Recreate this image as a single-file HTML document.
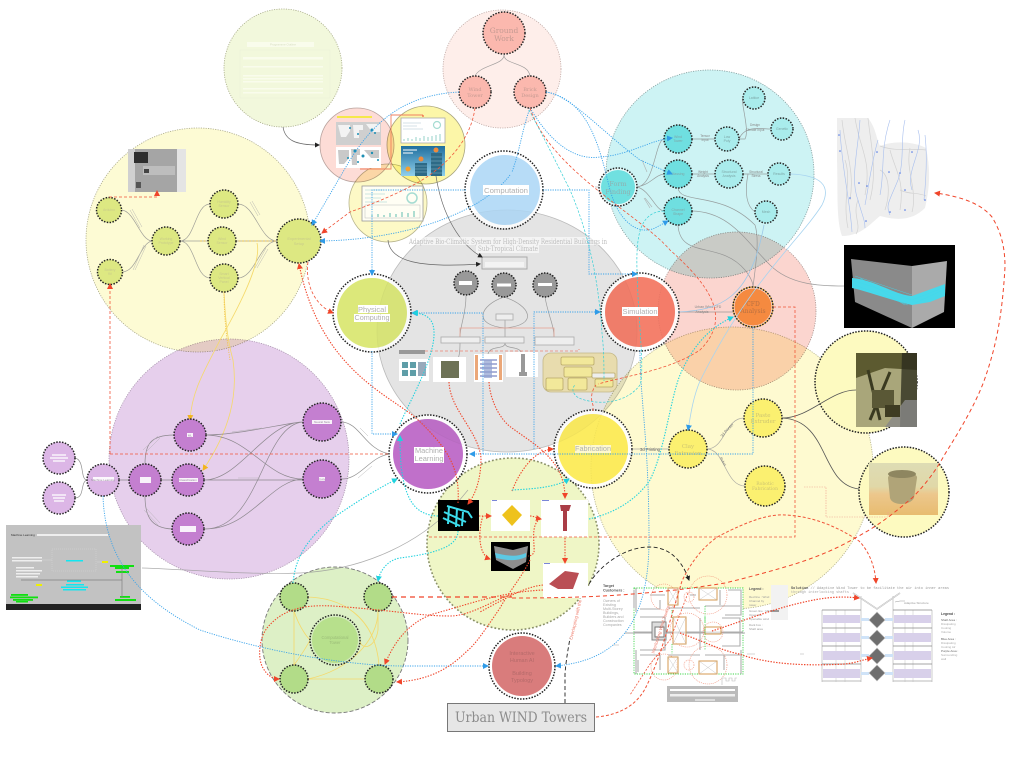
<!DOCTYPE html>
<html><head><meta charset="utf-8"><title>Urban WIND Towers</title>
<style>
html,body{margin:0;padding:0;background:#fff}
svg{display:block}
text{font-family:"Liberation Sans",sans-serif}
.mono{font-family:"Liberation Mono",monospace}
.ser{font-family:"DejaVu Serif","Liberation Serif",serif}
.big{mix-blend-mode:multiply}
.d{stroke:#222;stroke-width:1.5;stroke-dasharray:1.5 1.4}
.bl{stroke:#3aa3ea;stroke-width:.9;stroke-dasharray:1.2 1.2;fill:none}
.bs{stroke:#a8d4f0;stroke-width:.8;fill:none}
.rd{stroke:#f0553a;stroke-width:.8;stroke-dasharray:3 2;fill:none}
.rt{stroke:#f0452a;stroke-width:1.1;stroke-dasharray:1.4 1.4;fill:none}
.rb{stroke:#f0452a;stroke-width:1.2;stroke-dasharray:5 4;fill:none}
.cy{stroke:#1fd2de;stroke-width:1.1;stroke-dasharray:1.4 1.4;fill:none}
.cd{stroke:#35cfd6;stroke-width:.7;stroke-dasharray:2.5 1.5;fill:none}
.gr{stroke:#8a8a8a;stroke-width:.7;fill:none;opacity:.8}
.gd{stroke:#666;stroke-width:.7;fill:none}
.ye{stroke:#f5d96a;stroke-width:.8;fill:none}
</style></head><body>
<svg width="1024" height="762" viewBox="0 0 1024 762" xmlns="http://www.w3.org/2000/svg">
<defs>
<marker id="b" markerUnits="userSpaceOnUse" markerWidth="7" markerHeight="7" refX="5" refY="3" orient="auto"><path d="M0 0L6 3L0 6Z" fill="#2f9be8"/></marker>
<marker id="r" markerUnits="userSpaceOnUse" markerWidth="7" markerHeight="7" refX="5" refY="3" orient="auto"><path d="M0 0L6 3L0 6Z" fill="#f0452a"/></marker>
<marker id="c" markerUnits="userSpaceOnUse" markerWidth="7" markerHeight="7" refX="5" refY="3" orient="auto"><path d="M0 0L6 3L0 6Z" fill="#1fd2de"/></marker>
<marker id="o" markerUnits="userSpaceOnUse" markerWidth="7" markerHeight="7" refX="5" refY="3" orient="auto"><path d="M0 0L6 3L0 6Z" fill="#f2b520"/></marker>
<marker id="k" markerUnits="userSpaceOnUse" markerWidth="6" markerHeight="6" refX="4" refY="2.5" orient="auto"><path d="M0 0L5 2.5L0 5Z" fill="#222"/></marker>
<linearGradient id="tw" x1="0" y1="0" x2="0" y2="1"><stop offset="0" stop-color="#1f6e9e"/><stop offset="1" stop-color="#8fd0ec"/></linearGradient>
<linearGradient id="cupbg" x1="0" y1="0" x2="0" y2="1"><stop offset="0" stop-color="#dedcb4"/><stop offset=".45" stop-color="#e0d8a8"/><stop offset=".6" stop-color="#ecc78c"/><stop offset="1" stop-color="#e8bc70"/></linearGradient>
</defs>
<rect width="1024" height="762" fill="#fff"/>

<!-- large translucent groups -->
<g stroke-width=".8" stroke-dasharray="1.2 1.2">
<circle class="big" cx="283" cy="68" r="59" fill="#f2f8dc" stroke="#a9ad8a"/>
<circle class="big" cx="502" cy="69" r="59" fill="#feeeea" stroke="#c0aaa6"/>
<circle class="big" cx="198" cy="240" r="112" fill="#fdfbd4" stroke="#aaa98a"/>
<circle class="big" cx="229" cy="459" r="120" fill="#e6cfec" stroke="#a893ad"/>
<circle class="big" cx="710" cy="174" r="104" fill="#cdf3f4" stroke="#849e9e"/>
<ellipse class="big" cx="507" cy="331" rx="130" ry="121" fill="#e4e4e4" stroke="#bbb" stroke-dasharray="none"/>
<circle class="big" cx="737" cy="311" r="79" fill="#fbd5cf" stroke="#a8928e"/>
<circle class="big" cx="732" cy="468" r="141" fill="#fefad0" stroke="#b3b08a"/>
<circle class="big" cx="357" cy="145" r="37" fill="#fddcd6" stroke="#b9a39e" stroke-dasharray="none"/>
<circle class="big" cx="426" cy="145" r="39" fill="#fcf6a8" stroke="#aaa680" stroke-dasharray="none"/>
<circle class="big" cx="388" cy="203" r="39" fill="#fdf9c6" stroke="#b7b48e" stroke-dasharray="none"/>
</g>
<circle class="big" cx="513" cy="544" r="86" fill="#eff6c6" stroke="#8a9068" stroke-width="1.6" stroke-dasharray="1.8 2"/>
<circle class="big" cx="335" cy="640" r="73" fill="#ddf0c6" stroke="#777" stroke-width=".9" stroke-dasharray="4 2"/>
<circle cx="866" cy="382" r="51" fill="#fdfac0" class="d"/>
<circle cx="904" cy="492" r="45" fill="#fdfac0" class="d"/>

<!-- big ringed hubs -->
<g fill-opacity=".82">
<circle cx="504" cy="190" r="39" fill="#fff" class="d"/><circle class="big" cx="505" cy="190" r="35" fill="#b7dcf7" fill-opacity="1"/>
<circle cx="372" cy="313" r="39" fill="#fff" class="d"/><circle class="big" cx="372" cy="313" r="35" fill="#dce87a" fill-opacity="1"/>
<circle cx="640" cy="312" r="39" fill="#fff" class="d"/><circle class="big" cx="640" cy="312" r="35" fill="#f4806c" fill-opacity="1"/>
<circle cx="428" cy="454" r="39" fill="#fff" class="d"/><circle class="big" cx="428" cy="454" r="35" fill="#c070ca" fill-opacity="1"/>
<circle cx="593" cy="449" r="39" fill="#fff" class="d"/><circle class="big" cx="593" cy="449" r="35" fill="#fcec60" fill-opacity="1"/>
</g>
<circle cx="522" cy="666" r="33" fill="#fff" class="d"/><circle cx="522" cy="666" r="30" fill="#d97c7c"/>

<!-- center gray contents -->
<rect x="482" y="257" width="45" height="12" fill="#e6e6e6" stroke="#aaa"/>
<rect x="485" y="262" width="39" height="5" fill="#f3f3f3"/>
<path d="M388 240C390 262 420 268 480 264" class="gd" marker-end="url(#k)"/>
<path d="M436 176C442 215 460 245 482 257" class="gd" marker-end="url(#k)"/>
<g class="gr">
<path d="M466 296C466 315 460 325 460 337"/><path d="M504 297C480 305 472 325 505 328C540 325 530 305 504 297"/><path d="M545 297C548 315 554 325 554 337"/>
<path d="M505 320V337"/><path d="M505 343C505 350 490 345 488 354M505 343C505 350 520 345 522 354"/><path d="M460 343C460 365 455 360 450 362"/>
</g>
<path d="M460 337V328H554V337" fill="none" stroke="#e6a090" stroke-width=".7"/>
<circle cx="466" cy="283" r="12" fill="#999" class="d"/><rect x="459" y="281" width="13" height="4" fill="#fff"/>
<circle cx="504" cy="285" r="12" fill="#999" class="d"/><rect x="497" y="283.500" width="14" height="3" fill="#fff"/>
<circle cx="545" cy="285" r="12" fill="#999" class="d"/><rect x="538" y="283" width="14" height="3" fill="#fff"/>
<rect x="496" y="314" width="17" height="6" fill="#eee" stroke="#aaa" stroke-width=".8"/>
<rect x="441" y="337" width="39" height="6" fill="#eee" stroke="#aaa" stroke-width=".8"/>
<rect x="485" y="337" width="39" height="6" fill="#eee" stroke="#aaa" stroke-width=".8"/>
<rect x="535" y="337" width="39" height="8" fill="#eee" stroke="#aaa" stroke-width=".8"/>
<rect x="399" y="350" width="26" height="4" fill="#999"/>
<rect x="399" y="359" width="30" height="22" fill="#fff"/>
<g fill="#5f9ea8"><rect x="402" y="362" width="6" height="6"/><rect x="410" y="362" width="6" height="6"/><rect x="402" y="370" width="6" height="6"/><rect x="410" y="370" width="6" height="6"/></g><rect x="418" y="362" width="8" height="14" fill="#9ab"/>
<rect x="433" y="357" width="33" height="25" fill="#fff"/><rect x="441" y="361" width="18" height="17" fill="#6d7256"/>
<rect x="474" y="354" width="29" height="28" fill="#fff"/><rect x="475" y="355" width="3" height="25" fill="#eba778"/><rect x="499" y="355" width="3" height="25" fill="#eba778"/><g stroke="#7c86c4" stroke-width="1.200"><path d="M480 360H497M480 364H497M480 368H497M480 372H497M480 376H497"/></g><rect x="484" y="360" width="8" height="18" fill="#8fa0d0" opacity=".7"/>
<rect x="506" y="352" width="32" height="25" fill="#fff"/><path d="M521 354H525V372H527V376H519V372H521Z" fill="#999"/>
<rect x="543" y="353" width="74" height="39" rx="8" fill="#e8dcae" stroke="#c4b888" stroke-width=".8"/>
<g fill="#f2e89a" stroke="#b8a868" stroke-width=".8"><rect x="561" y="357" width="33" height="8" rx="1.500"/><rect x="564" y="367" width="28" height="10" rx="1.500"/><rect x="546" y="378" width="17" height="12" rx="1.500"/><rect x="568" y="378" width="19" height="12" rx="1.500"/><rect x="595" y="379" width="18" height="8" rx="1.500"/><rect x="592" y="373" width="23" height="5" rx="1" fill="#eee"/></g>
<rect x="412" y="237" width="192" height="8" fill="#fff" opacity=".6"/><rect x="476" y="245" width="63" height="8" fill="#fff" opacity=".6"/>
<text class="ser" x="409" y="244" font-size="7.500" fill="#bdbdbd" textLength="198" lengthAdjust="spacingAndGlyphs">Adaptive Bio-Climatic System for High-Density Residential Buildings in</text>
<text class="ser" x="478" y="251" font-size="7.500" fill="#bdbdbd" textLength="60" lengthAdjust="spacingAndGlyphs">Sub-Tropical Climate</text>

<!-- top-left text circle -->
<g fill="#fbfdf0" opacity=".8"><rect x="240" y="50" width="90" height="48" stroke="#e8ecd8" stroke-width=".5" fill="none"/>
<rect x="247" y="42" width="67" height="5"/><rect x="243" y="57" width="80" height="2.500"/><rect x="243" y="66" width="80" height="1.500"/><rect x="243" y="75" width="80" height="1.500"/><rect x="243" y="78" width="80" height="1.500"/><rect x="243" y="81" width="80" height="1.500"/><rect x="243" y="88" width="80" height="1.500"/><rect x="243" y="92" width="80" height="1.500"/></g>
<text x="283" y="45.500" font-size="3" fill="#d6dcc0" text-anchor="middle">Programme Outline</text>

<!-- Ground work -->
<path d="M504 55C504 65 480 65 475 76M504 55C504 65 528 62 530 76" class="gr"/>
<circle cx="504" cy="33" r="21" fill="#fbb8ae" class="d"/>
<text class="ser" x="504" y="33" font-size="7.500" fill="#c59a92" text-anchor="middle">Ground</text><text class="ser" x="504" y="41" font-size="7.500" fill="#c59a92" text-anchor="middle">Work</text>
<circle cx="475" cy="92" r="16" fill="#fbb8ae" class="d"/>
<text class="ser" x="475" y="91" font-size="5" fill="#c59a92" text-anchor="middle">Wind</text><text class="ser" x="475" y="97" font-size="5" fill="#c59a92" text-anchor="middle">Tower</text>
<circle cx="530" cy="92" r="16" fill="#fbb8ae" class="d"/>
<text class="ser" x="530" y="91" font-size="5" fill="#c59a92" text-anchor="middle">Brick</text><text class="ser" x="530" y="97" font-size="5" fill="#c59a92" text-anchor="middle">Design</text>

<!-- maps and dashboards -->
<path d="M283 127C285 140 295 145 319 145" class="gd" marker-end="url(#k)"/>
<rect x="337" y="116" width="35" height="2" fill="#f5e84a"/>
<rect x="336" y="122" width="45" height="23" fill="#cfcfcf"/><rect x="336" y="147" width="45" height="21" fill="#fff"/>
<path d="M338 125h12v6l-4 6h-5zM353 125h10v5h-4v8h-5zM366 124h14v8h-8z" fill="#f3f3f3"/>
<path d="M338 150h11v8l-5 6h-5zM351 149h9v6h-3v10h-5zM364 150h15v8h-8z" fill="#c9c9c9"/>
<g fill="#1d8fb4"><circle cx="372" cy="130" r="1.500"/><circle cx="358" cy="134" r="1"/><circle cx="350" cy="128" r="1"/><circle cx="375" cy="133" r="1"/><circle cx="355" cy="151" r="1.500"/><circle cx="363" cy="156" r="1.500"/><circle cx="348" cy="158" r="1"/><circle cx="372" cy="153" r="1.200"/><circle cx="378" cy="160" r="1"/><circle cx="358" cy="162" r="1"/></g>
<path d="M360 169H391V115H423" fill="none" stroke="#f08060" stroke-width=".9"/><path d="M423 115V117" stroke="#f0452a"/>
<rect x="401" y="118" width="44" height="25" fill="#fff" stroke="#aaa" stroke-width=".8"/>
<circle cx="437" cy="125" r="3.500" fill="none" stroke="#a6dcd2" stroke-width="1.200"/>
<path d="M403 123h18M403 126h14M403 129h20" stroke="#c8d8e0" stroke-width=".7"/>
<path d="M404 141v-2M408 141v-3M412 141v-2M416 141v-4M420 141v-3M424 141v-5M428 141v-4M432 141v-5M436 141v-6M440 141v-7" stroke="#7cc6bc" stroke-width=".8"/>
<rect x="401" y="146" width="44" height="30" fill="url(#tw)"/>
<path d="M403 150h14M403 153h10" stroke="#fff" stroke-width="1"/>
<rect x="415" y="163" width="12" height="13" fill="#2d6a86"/><rect x="431" y="153" width="11" height="23" fill="#2d6a86"/>
<path d="M415 166h12M415 169h12M415 172h12M431 157h11M431 161h11M431 165h11M431 169h11M431 173h11" stroke="#85b6c9" stroke-width=".6"/>
<circle cx="421" cy="159" r="2.500" fill="#ee8b3c"/><circle cx="436" cy="150" r="2.500" fill="#ee8b3c"/><circle cx="408" cy="169" r="2.500" fill="#f5a030"/>
<rect x="362" y="186" width="61" height="35" fill="#fff" fill-opacity=".8" stroke="#999" stroke-width=".8"/>
<circle cx="412" cy="198" r="5" fill="none" stroke="#a6dcd2" stroke-width="1.500"/>
<path d="M365 190h18M365 194h20M365 198h16M365 202h22" stroke="#bfe0da" stroke-width=".8"/>
<rect x="365" y="205" width="55" height="13" fill="none" stroke="#bbb" stroke-width=".5"/>
<path d="M372 217v-2M378 217v-3M384 217v-2M390 217v-4M396 217v-3M402 217v-5M408 217v-4M414 217v-6" stroke="#5fbcae"/>

<!-- left yellow cluster -->
<g class="gr">
<path d="M122 210C135 212 140 240 152 241M122 272C137 272 140 243 152 241"/>
<path d="M180 241C195 241 195 204 210 204M180 241H208M180 241C195 241 195 278 210 278"/>
<path d="M238 204C255 204 260 241 277 241M236 241H277M238 278C255 278 260 241 277 241"/>
<path d="M130 210L140 228M132 209L142 227M133 270L144 245M135 270L146 246M250 202L258 216M252 201L260 215M255 268L266 248M257 268L268 249" stroke="#aaa" stroke-width=".5"/>
</g>
<path d="M200 241H315" stroke="#f2c040" stroke-width=".8" stroke-dasharray="2 1.500" fill="none" marker-end="url(#o)"/>
<path d="M224 292C225 310 226 335 233 360C238 395 230 430 203 470" class="ye" marker-end="url(#o)"/>
<path d="M257 243C262 262 240 305 220 340C205 370 192 390 190 420" class="ye" marker-end="url(#o)"/>
<path d="M224 292C224 320 227 340 230 360" stroke="#f2c040" stroke-width=".8" stroke-dasharray="1.200 1.200" fill="none"/>
<circle cx="109" cy="210" r="12.500" fill="#dde882" class="d"/>
<circle cx="110" cy="272" r="12.500" fill="#dde882" class="d"/>
<circle cx="166" cy="241" r="14" fill="#dde882" class="d"/>
<circle cx="224" cy="204" r="14" fill="#dde882" class="d"/>
<circle cx="222" cy="241" r="14" fill="#dde882" class="d"/>
<circle cx="224" cy="278" r="14" fill="#dde882" class="d"/>
<circle cx="299" cy="241" r="22" fill="#dde882" class="d"/>
<g fill="#c9cc8a" font-size="3.500" text-anchor="middle">
<text x="109" y="211">Arduino</text><text x="110" y="271">Battery</text><text x="110" y="275">9V</text>
<text x="166" y="240">Working</text><text x="166" y="244">Prototype</text>
<text x="224" y="203">Humidity</text><text x="224" y="207">Sensor</text>
<text x="222" y="240">Wind</text><text x="222" y="244">Sensor</text>
<text x="224" y="275">Smart</text><text x="224" y="279">Vertical</text><text x="224" y="283">Panel</text>
<text x="299" y="240" font-size="4">Experimental</text><text x="299" y="245" font-size="4">Setup</text>
</g>
<rect x="128" y="149" width="58" height="43" fill="#a5a5a5"/><rect x="128" y="149" width="7" height="43" fill="#d0d0d0"/><rect x="177" y="149" width="9" height="43" fill="#e4e4e4"/>
<rect x="134" y="152" width="14" height="11" fill="#2e2e2e"/><rect x="143" y="166" width="32" height="9" fill="#bdbdbd"/><rect x="136" y="182" width="5" height="6" fill="#555"/><rect x="144" y="169" width="5" height="4" fill="#444"/>

<!-- purple cluster -->
<g class="gr" style="stroke:#777">
<path d="M205 435C240 435 290 422 303 422M205 435C250 435 265 479 303 479M204 480C240 480 265 422 303 422M204 480H303M204 529C260 530 262 425 303 422M204 529C250 530 270 480 303 479"/>
<path d="M145 464C145 445 150 435 174 435M119 480H172M145 496C145 515 150 528 172 529M75 458C85 460 80 480 87 480M75 498C85 498 80 482 87 480"/>
<path d="M341 422C360 422 365 450 390 454M341 479C360 480 370 456 390 454"/>
<path d="M468 490C425 545 360 570 300 573C250 575 200 570 142 568" stroke="#999"/>
<path d="M143 450L158 436M146 452L160 438M144 510L158 525M146 508L160 523M232 432L262 428M238 478H260M360 428L368 436M358 478L372 466" stroke="#aaa" stroke-width=".5"/>
</g>
<circle cx="190" cy="435" r="16" fill="#c47fd0" class="d"/>
<circle cx="188" cy="480" r="16" fill="#c47fd0" class="d"/>
<circle cx="188" cy="529" r="16" fill="#c47fd0" class="d"/>
<circle cx="322" cy="422" r="19" fill="#c47fd0" class="d"/>
<circle cx="322" cy="479" r="19" fill="#c47fd0" class="d"/>
<circle cx="145" cy="480" r="16" fill="#c47fd0" class="d"/>
<circle cx="103" cy="480" r="16" fill="#dcb6e6" class="d"/>
<circle cx="59" cy="458" r="16" fill="#dcb6e6" class="d"/>
<circle cx="59" cy="498" r="16" fill="#dcb6e6" class="d"/>
<g fill="#fff" opacity=".9"><rect x="187" y="433" width="6" height="4"/><rect x="179" y="478" width="19" height="4"/><rect x="180" y="526" width="16" height="6"/><rect x="312" y="420" width="20" height="4"/><rect x="319" y="477" width="6" height="4"/><rect x="140" y="477" width="11" height="6"/><rect x="93" y="477" width="21" height="4"/></g>
<g fill="#fff" opacity=".65"><rect x="52" y="454" width="14" height="2"/><rect x="50" y="457" width="18" height="2"/><rect x="53" y="460" width="12" height="2"/><rect x="52" y="494" width="14" height="2"/><rect x="53" y="497" width="12" height="2"/><rect x="54" y="500" width="10" height="2"/></g>
<g fill="#9a8aa0" font-size="3" text-anchor="middle"><text x="190" y="436.500">ML</text><text x="188" y="481">Classification</text><text x="322" y="423">Neural Nets</text><text x="322" y="480.500">GAN</text><text x="103" y="481">Machine Learning</text></g>
<rect x="6" y="525" width="135" height="80" fill="#c2c2c2"/><rect x="6" y="604" width="135" height="6" fill="#222"/>
<rect x="37" y="534" width="71" height="2" fill="#eee"/><text x="11" y="536" font-size="3" fill="#333">Machine Learning</text>
<rect x="52" y="549" width="44" height="22" fill="none" stroke="#d6d6d6" stroke-width=".5" stroke-dasharray="1 1"/>
<rect x="66" y="560" width="17" height="1.500" fill="#12e6f0"/>
<rect x="12" y="557" width="30" height="1.500" fill="#eee"/><rect x="12" y="560" width="30" height="1.500" fill="#eee"/>
<g fill="#eee"><rect x="16" y="567" width="18" height="1.500"/><rect x="16" y="570" width="26" height="1.500"/><rect x="16" y="573" width="24" height="1.500"/><rect x="16" y="576" width="22" height="1.500"/></g>
<rect x="102" y="561" width="6" height="2" fill="#eef000"/><rect x="36" y="584" width="6" height="2" fill="#eef000"/>
<rect x="110" y="565" width="24" height="2" fill="#10e010"/><rect x="115" y="567" width="14" height="2" fill="#10e010"/><rect x="116" y="571" width="13" height="2" fill="#10e010"/>
<rect x="67" y="580" width="14" height="2" fill="#12e6f0"/><rect x="66" y="584" width="18" height="1.500" fill="#12e6f0"/><rect x="61" y="586.500" width="27" height="1.500" fill="#12e6f0"/><rect x="63" y="589" width="23" height="1.500" fill="#12e6f0"/>
<rect x="11" y="594" width="17" height="1.800" fill="#10e010"/><rect x="10" y="596.500" width="28" height="1.800" fill="#10e010"/><rect x="13" y="599" width="20" height="1.800" fill="#10e010"/><rect x="16" y="601" width="12" height="1.500" fill="#10e010"/>
<rect x="120" y="596" width="10" height="1.800" fill="#10e010"/><rect x="115" y="599" width="21" height="2" fill="#10e010"/>
<path d="M21 580H122V598M122 568V580" stroke="#808080" stroke-width=".7" fill="none"/>
<path d="M42 560H52M102 562H97" stroke="#dcdcdc" stroke-width=".4"/>

<!-- green cluster -->
<g class="ye" stroke="#f4dd70">
<path d="M305 597C340 597 375 615 379 665"/><path d="M294 611V665"/><path d="M378 611C378 640 350 670 308 679"/><path d="M308 679H365"/>
<path d="M378 611V630C375 650 360 650 360 640M294 611C300 630 310 640 310 640M294 665C305 650 310 640 310 640"/>
</g>
<circle cx="294" cy="597" r="14" fill="#b2dc88" class="d"/>
<circle cx="378" cy="597" r="14" fill="#b2dc88" class="d"/>
<circle cx="294" cy="679" r="14" fill="#b2dc88" class="d"/>
<circle cx="379" cy="679" r="14" fill="#b2dc88" class="d"/>
<circle cx="335" cy="640" r="25" fill="#d6ecc0" class="d"/><circle cx="335" cy="640" r="23" fill="#b7e08c"/>
<text x="335" y="639" font-size="4.200" fill="#9bbc78" text-anchor="middle">Computational</text><text x="335" y="644" font-size="4.200" fill="#9bbc78" text-anchor="middle">Tower</text>

<!-- cyan cluster -->
<g class="gr">
<path d="M637 187C655 185 655 140 664 139M637 187C650 185 655 175 664 174M637 187C650 190 655 210 664 211"/>
<path d="M692 139H715M739 139H745C750 130 740 100 743 98M739 139C745 125 760 129 771 129"/><path d="M692 174H715M743 174H768"/>
<path d="M748 174C745 190 745 205 755 212"/>
<path d="M678 188C680 205 720 190 755 225C760 240 755 270 753 287"/>
<path d="M692 211C730 212 745 240 770 265C790 285 820 286 844 286"/>
<path d="M678 225C680 260 720 240 745 270C753 280 753 285 753 287"/>
<path d="M678 312H734" stroke="#888"/>
<path d="M595 187H600M600 187H618" stroke="#aaa"/>
<path d="M642 160L647 172M644 198L650 208M645 198L652 207" stroke="#aaa"/>
</g>
<circle cx="618" cy="187" r="19" fill="#e6fafa" class="d"/><circle cx="618" cy="187" r="17" fill="#70e0e0"/>
<circle cx="678" cy="139" r="14" fill="#6fdfe0" class="d"/>
<circle cx="678" cy="174" r="14" fill="#6fdfe0" class="d"/>
<circle cx="678" cy="211" r="14" fill="#6fdfe0" class="d"/>
<circle cx="727" cy="139" r="12" fill="#a9ecec" class="d"/>
<circle cx="729" cy="174" r="14" fill="#a9ecec" class="d"/>
<circle cx="779" cy="174" r="11" fill="#a9ecec" class="d"/>
<circle cx="766" cy="212" r="11" fill="#a9ecec" class="d"/>
<circle cx="782" cy="129" r="11" fill="#a9ecec" class="d"/>
<circle cx="754" cy="98" r="11" fill="#a9ecec" class="d"/>
<g fill="#7fa8a8" font-size="3.500" text-anchor="middle"><text x="678" y="138">Wind</text><text x="678" y="142">Tower</text><text x="678" y="175">Massing</text><text x="678" y="211">Channel</text><text x="678" y="215">Shape</text><text x="727" y="138">Low</text><text x="727" y="142">Poly</text><text x="729" y="173">Structural</text><text x="729" y="177">Analysis</text><text x="779" y="175">Results</text><text x="766" y="213">Mesh</text><text x="782" y="130">Genetic</text><text x="754" y="99">Lattice</text></g>
<g fill="#888" font-size="3.200" text-anchor="middle"><text x="705" y="137">Tensor</text><text x="705" y="141">Input</text><text x="703" y="173">Weight</text><text x="703" y="177">Analysis</text><text x="756" y="173">Structural</text><text x="756" y="177">Stress</text><text x="755" y="126">Design</text><text x="755" y="131">Climate Input</text></g>
<circle cx="753" cy="307" r="20" fill="none" stroke="#e8b030" stroke-width="1"/><circle cx="753" cy="307" r="20" fill="none" class="d"/><circle cx="753" cy="307" r="18.500" fill="#f58a40"/>
<text class="ser" x="753" y="306" font-size="6" fill="#b87040" text-anchor="middle">CFD</text><text class="ser" x="753" y="313" font-size="6" fill="#b87040" text-anchor="middle">Analysis</text>
<text x="708" y="308" font-size="3.500" fill="#888" text-anchor="middle">Urban Wind CFD</text><text x="702" y="313" font-size="3.500" fill="#888" text-anchor="middle">Analysis</text>

<!-- Fabrication cluster -->
<g class="gr" style="stroke:#999">
<path d="M632 449H669"/><path d="M707 449C725 449 725 418 744 418M707 449C725 449 725 486 745 486"/>
</g>
<path d="M782 418C810 418 830 390 856 390" fill="none" stroke="#555" stroke-width=".8"/><path d="M782 418C830 420 820 485 859 489" fill="none" stroke="#555" stroke-width=".8"/>
<circle cx="688" cy="449" r="19" fill="#fbf070" class="d"/>
<circle cx="763" cy="418" r="19" fill="#fbf070" class="d"/>
<circle cx="765" cy="486" r="20" fill="#fbf070" class="d"/>
<text class="ser" x="688" y="448" font-size="5.500" fill="#cdc470" text-anchor="middle">Clay</text><text class="ser" x="688" y="455" font-size="5.500" fill="#cdc470" text-anchor="middle">Extrusion</text>
<text class="ser" x="763" y="417" font-size="5.500" fill="#cdc470" text-anchor="middle">Paste</text><text class="ser" x="763" y="423" font-size="5.500" fill="#cdc470" text-anchor="middle">Extruder</text>
<text class="ser" x="765" y="485" font-size="4.500" fill="#cdc470" text-anchor="middle">Robotic</text><text class="ser" x="765" y="490" font-size="4.500" fill="#cdc470" text-anchor="middle">Fabrication</text>
<text x="650" y="451" font-size="4.200" fill="#666" text-anchor="middle">3d Printing</text>
<text transform="translate(728 431) rotate(-48)" font-size="4" fill="#777" text-anchor="middle">3d Printer</text>
<text transform="translate(722 462) rotate(60)" font-size="3.500" fill="#777" text-anchor="middle">Robot</text>

<!-- imagery right -->
<path d="M837 118H868C876 128 876 138 880 146C895 140 915 142 926 148C932 175 928 195 925 208C915 218 902 222 880 216C872 222 862 236 842 236C836 220 838 190 837 160Z" fill="#eeeeee"/>
<g stroke="#d2d2d2" stroke-width=".7" fill="none"><path d="M842 120C845 150 855 170 850 200M855 118C860 150 872 160 865 195M868 118C870 140 878 170 870 200M890 150C895 170 905 180 900 210M910 148C905 170 918 190 912 212M880 170C890 175 890 195 885 210M845 160C852 180 842 200 848 228M858 200C852 215 862 225 856 234M880 146C895 152 912 148 926 150M900 190C910 195 918 192 926 196"/></g>
<g stroke="#a8bfee" stroke-width=".6" fill="none"><path d="M840 130C842 170 850 200 852 232M860 120C858 150 850 180 858 200C862 215 865 220 865 228M878 140C872 160 868 190 865 205M890 120C880 150 885 170 880 195M905 120C900 140 905 160 898 180C890 200 885 205 890 215M918 130C925 150 905 170 912 190M925 135C928 160 925 190 924 200"/></g>
<g fill="#4a74e6"><circle cx="839" cy="135" r=".8"/><circle cx="840" cy="151" r=".8"/><circle cx="850" cy="198" r=".8"/><circle cx="859" cy="183" r=".8"/><circle cx="867" cy="186" r=".8"/><circle cx="866" cy="221" r=".8"/><circle cx="877" cy="152" r=".8"/><circle cx="889" cy="172" r=".8"/><circle cx="900" cy="173" r=".8"/><circle cx="912" cy="152" r=".8"/><circle cx="905" cy="190" r=".8"/><circle cx="925" cy="200" r=".8"/><circle cx="890" cy="212" r=".8"/><circle cx="905" cy="210" r=".8"/></g>
<rect x="844" y="245" width="111" height="83" fill="#000"/>
<path d="M851 259L912 266V328L855 302Z" fill="#8a8a8a"/><path d="M912 266L947 261L944 312L912 328Z" fill="#aaa"/>
<path d="M852 278C875 280 895 295 912 296L945 284L945 296L930 302L912 305C890 300 870 292 852 288Z" fill="#48d8ea"/>
<g stroke="#40d8ee" stroke-width=".4" fill="none"><path d="M852 280L912 300M852 284L908 305M855 276L912 295M860 278L905 305M912 300L945 287M915 303L943 290"/></g>
<rect x="856" y="353" width="61" height="74" fill="#a9a67a"/><path d="M856 353H917V370L885 368L856 378Z" fill="#5c5a30"/><path d="M902 353H917V427H900Z" fill="#2a2a1c" opacity=".75"/><path d="M905 400H917V427H885Z" fill="#888" opacity=".8"/>
<path d="M868 370L880 420M890 372L870 420" stroke="#3a3a20" stroke-width="3"/><rect x="872" y="390" width="22" height="18" fill="#5a5836"/><rect x="885" y="405" width="15" height="12" fill="#3e3c22"/>
<rect x="869" y="463" width="69" height="52" fill="url(#cupbg)"/><path d="M888 478C888 470 918 470 917 478L914 498C910 506 892 506 890 498Z" fill="#b0a478"/><ellipse cx="902" cy="474" rx="14" ry="4" fill="#8e8660"/>

<!-- fabrication imagery -->
<rect x="438" y="500" width="41" height="31" fill="#000"/>
<path d="M447 506L468 512L472 518M444 512L466 522M443 518L460 526M449 506L448 524M457 508L456 527M463 512L462 526" stroke="#3cdcec" stroke-width="2" fill="none"/>
<rect x="491" y="500" width="39" height="31" fill="#fff"/><path d="M512 505L522 515L512 526L502 515Z" fill="#eec21c"/><rect x="492" y="500" width="5" height="1" fill="#7a86d8"/>
<rect x="541" y="500" width="47" height="37" fill="#fff"/><path d="M560 505H571L569 511H567V531H563V511H561Z" fill="#aa3d46"/><rect x="542" y="500" width="7" height="1" fill="#7a86d8"/>
<rect x="491" y="542" width="39" height="29" fill="#000"/><path d="M494 546L513 550L528 546L526 562L513 569L496 560Z" fill="#8e8e8e"/><path d="M495 553C505 555 515 558 526 553V557C515 562 505 560 496 558Z" fill="#5cc9e4"/>
<rect x="543" y="563" width="45" height="35" fill="#fff"/><path d="M549 584L565 571L579 573L573 589L558 589Z" fill="#ba4e54"/><rect x="544" y="563" width="6" height="1" fill="#7a86d8"/>

<!-- bottom floor plan -->
<rect x="634" y="588" width="109" height="86" fill="#fff"/>
<rect x="634" y="588" width="109" height="86" fill="none" stroke="#3dd64a" stroke-width=".9" stroke-dasharray="1.200 1.200"/>
<g fill="none" stroke="#adadad" stroke-width="1.100">
<path d="M634 590V608M650 595H665M690 595H696M720 590V605M728 590H741V615H725"/>
<path d="M640 609H660V600M668 608H700M705 606H740M640 617H665V650H640M700 618V650M722 618H740V646H722"/>
<path d="M634 632H743"/><path d="M640 655H660V670M668 655H700M705 655H740M638 660V672M724 655V670"/>
<path d="M636 588V612M636 650V674M741 650V674"/>
</g>
<path d="M625 633H745" stroke="#aaa" stroke-width="1"/>
<rect x="652" y="622" width="14" height="18" fill="#ddd" stroke="#888"/><rect x="655" y="627" width="9" height="10" fill="#fff" stroke="#777"/>
<g fill="none" stroke="#f08a70" stroke-width=".6" stroke-dasharray="1 1">
<circle cx="664" cy="597" r="13"/><circle cx="708" cy="595" r="19"/><circle cx="689" cy="597" r="5"/><circle cx="687" cy="630" r="17"/><circle cx="713" cy="632" r="10"/><circle cx="664" cy="667" r="13"/><circle cx="708" cy="665" r="19"/><circle cx="689" cy="665" r="5"/></g>
<g fill="#fff" fill-opacity=".6" stroke="#d49a52" stroke-width="1"><rect x="668" y="588" width="10" height="17"/><rect x="699" y="588" width="18" height="12"/><rect x="673" y="617" width="13" height="27"/><rect x="705" y="627" width="16" height="7"/><rect x="668" y="657" width="10" height="16"/><rect x="699" y="661" width="18" height="13"/></g>
<path d="M668 588L678 605M678 588L668 605M699 588L717 600M717 588L699 600M673 617L686 644M686 617L673 644M668 657L678 673M678 657L668 673M699 661L717 674M717 661L699 674" stroke="#bbb" stroke-width=".4"/>
<path d="M705 617V650M672 610V618M672 644V654M705 606V622" stroke="#3dd64a" stroke-width=".8" stroke-dasharray="1.200 1.200"/>
<rect x="667" y="686" width="71" height="16" fill="#bbb"/><rect x="670" y="689" width="65" height="2" fill="#fff"/><rect x="670" y="694" width="65" height="2.500" fill="#eee"/><rect x="695" y="699" width="20" height="2" fill="#ddd"/>
<path d="M722 685V678h4v3h3v-3h3v3h3v-3h2" stroke="#bbb" fill="none" stroke-width=".6"/>
<path d="M613 645H619M747 654H755M800 654H804" stroke="#aaa" stroke-width=".6"/>

<g class="mono" fill="#555" font-size="3.700">
<text x="603" y="587" font-weight="bold">Target</text><text x="603" y="591.500" font-weight="bold">Customers :</text>
<g fill="#a8a8a8"><text x="603" y="602">Owners of</text><text x="603" y="606">Existing</text><text x="603" y="610">Multi-Storey</text><text x="603" y="614">Buildings,</text><text x="603" y="618">Builders and</text><text x="603" y="622">Construction</text><text x="603" y="626">Companies</text></g>
</g>
<rect x="771" y="585" width="17" height="35" fill="#f2f2f2"/><rect x="771" y="610" width="8" height="2" fill="#999"/>
<g class="mono" fill="#999" font-size="3"><text x="749" y="590" font-weight="bold" fill="#555" font-size="3.500">Legend :</text><text x="749" y="598">Red line : Wind</text><text x="749" y="602">Channel by</text><text x="749" y="606">tower</text><text x="749" y="612">Green line : MEP</text><text x="749" y="616">Openable</text><text x="749" y="620">Openable wind</text><text x="749" y="626">Dark box :</text><text x="749" y="630">Shaft area</text></g>
<text class="mono" x="791" y="589" font-size="3.500" fill="#999" textLength="158" lengthAdjust="spacingAndGlyphs"><tspan font-weight="bold" fill="#555">Solution</tspan> // Adaptive Wind Tower to be facilitate the air into inner areas</text>
<text class="mono" x="791" y="592.800" font-size="3.500" fill="#aaa" textLength="58" lengthAdjust="spacingAndGlyphs">through interlocking shafts</text>

<!-- section diagram -->
<path d="M853 593L877 609L900 593" fill="none" stroke="#bbb" stroke-width="1.500"/><path d="M853 593L877 609L900 593" fill="none" stroke="#fff" stroke-width=".5"/>
<path d="M895 602L900 601H905" stroke="#999" stroke-width=".5" fill="none"/><text x="904" y="604" font-size="3" fill="#999">Adaptive Structure</text>
<g><path d="M822 610V682M861 596V682M893 596V682M932 610V682" stroke="#ccc" fill="none"/><path d="M836 610V682M845 610V682M905 610V682M913 610V682" stroke="#ccc" stroke-width=".6" fill="none"/></g>
<g fill="#d8d0ea"><rect x="823" y="615" width="37" height="8"/><rect x="823" y="633" width="37" height="9"/><rect x="823" y="651" width="37" height="9"/><rect x="823" y="669" width="37" height="9"/><rect x="894" y="615" width="37" height="8"/><rect x="894" y="633" width="37" height="9"/><rect x="894" y="651" width="37" height="9"/><rect x="894" y="669" width="37" height="9"/></g>
<path d="M822 610H861M893 610H932M822 628H861M893 628H932M822 646H861M893 646H932M822 664H861M893 664H932" stroke="#888" stroke-width=".8"/><path d="M822 681H861M893 681H932" stroke="#bbb" stroke-width="1"/>
<g fill="#cfe3f8"><rect x="861" y="618" width="8" height="3"/><rect x="885" y="618" width="8" height="3"/><rect x="861" y="636" width="8" height="3"/><rect x="885" y="636" width="8" height="3"/><rect x="861" y="654" width="8" height="3"/><rect x="885" y="654" width="8" height="3"/><rect x="861" y="672" width="8" height="3"/><rect x="885" y="672" width="8" height="3"/></g>
<g fill="#6e6e6e" stroke="#bbb" stroke-width=".6"><path d="M877 612L885 620L877 628L869 620Z"/><path d="M877 630L885 638L877 646L869 638Z"/><path d="M877 648L885 656L877 664L869 656Z"/><path d="M877 665L885 673L877 681L869 673Z"/></g>
<g class="mono" fill="#aaa" font-size="3"><text x="941" y="615" font-weight="bold" fill="#444" font-size="3.400">Legend :</text><text x="941" y="621" fill="#666">Shaft Area :</text><text x="941" y="625">Dissipating</text><text x="941" y="629">Cooling</text><text x="941" y="633">Volume</text><text x="941" y="640" fill="#666">Blue Area :</text><text x="941" y="644">Dissipating</text><text x="941" y="648">Cooling Air</text><text x="941" y="652" fill="#666">Purple Area :</text><text x="941" y="656">Surrounding</text><text x="941" y="660">wall</text></g>

<!-- blue connectors -->
<path d="M459 92C405 95 375 120 350 160L312 225" class="bl" marker-end="url(#b)"/>
<path d="M510 175C480 215 400 240 320 241" class="bl" marker-end="url(#b)"/>
<path d="M466 190H372V275" class="bl" marker-end="url(#b)"/>
<path d="M372 351V434H397" class="bl" marker-end="url(#b)"/>
<path d="M483 454V313H412" class="bl" marker-end="url(#b)"/>
<path d="M753 327V454H470" class="bl" marker-end="url(#b)"/>
<path d="M543 190H589V274H637" class="bl" marker-end="url(#b)"/>
<path d="M534 449V312H600" class="bl" marker-end="url(#b)"/>
<path d="M640 350C640 400 649 440 649 540C649 620 620 660 556 666" class="bl" marker-end="url(#b)"/>
<path d="M546 92C570 95 600 130 640 160L672 174" class="bl" marker-end="url(#b)"/>
<path d="M530 108C555 150 580 160 600 157C630 155 650 140 672 138" class="bl" marker-end="url(#b)"/>
<path d="M546 92C590 100 600 150 610 190C620 225 640 235 655 228L668 221" class="bl" marker-end="url(#b)"/>
<path d="M530 108C522 130 520 150 512 172" class="bl"/>
<path d="M103 496C105 560 140 600 200 630C260 650 340 665 400 666H488" class="bl" marker-end="url(#b)"/>
<path d="M678 312C720 310 750 300 764 225" class="bs" style="stroke:#9cc8e8"/>
<path d="M790 174C820 175 832 185 822 205C800 240 750 280 700 381C692 400 690 420 688 430" class="bs" marker-end="url(#b)"/>

<!-- red connectors -->
<path d="M475 108C470 145 440 170 417 183C395 195 370 205 350 212L322 233" class="rd" marker-end="url(#r)"/>
<path d="M530 108C550 170 640 215 670 250C715 290 730 320 700 350C670 370 630 375 598 384" class="rd"/>
<path d="M109 197H157V191" class="rd" marker-end="url(#r)"/>
<path d="M110 454V284" class="rd" marker-end="url(#r)"/>
<path d="M110 454H390" class="rd"/>
<path d="M308 262C305 285 315 305 333 313" class="rd" marker-end="url(#r)"/>
<path d="M458 503C460 470 450 450 417 419C390 395 320 370 299 264" class="rt" marker-end="url(#r)"/>
<path d="M773 307H795V537H428" class="rd" stroke-width=".9"/>
<path d="M449 382C450 410 478 430 481 458C481 480 475 495 468 504" class="rt" marker-end="url(#r)"/>
<path d="M596 717C620 715 636 705 645 689C660 660 670 620 682 581C692 560 705 545 719 536C750 520 770 514 785 515C810 516 835 525 859 541C868 550 875 565 876 583" class="rd" style="stroke-width:1" marker-end="url(#r)"/>
<path d="M512 598C560 598 600 597 645 593C680 590 700 587 725 583C750 577 775 570 795 564C820 556 840 547 855 538C880 525 895 512 912 498C925 485 935 472 945 454C960 430 975 405 984 381C995 350 1002 320 1005 267C1005 245 1000 230 992 217C982 205 965 197 935 193" class="rb" style="stroke-width:1;stroke-dasharray:4 3" marker-end="url(#r)"/>
<path d="M392 597H512" class="rb"/>
<path d="M512 594C492 601 470 616 450 616C420 616 400 611 333 606C310 605 285 606 267 628C258 640 258 660 263 668C267 675 272 679 279 679" class="rt" marker-end="url(#r)"/>
<path d="M530 560C520 580 510 590 500 608C485 630 475 645 467 651C450 668 430 680 397 682" class="rt" marker-end="url(#r)"/>
<path d="M543 590C500 592 470 604 433 614C410 622 395 640 385 664" class="rt" marker-end="url(#r)"/>
<path d="M543 585C525 587 510 596 480 612" class="rt"/>
<path d="M479 516H491" class="rt" marker-end="url(#r)"/>
<path d="M530 516C534 516 536 518 541 519" class="rt" marker-end="url(#r)"/>
<path d="M565 538V563" class="rt" marker-end="url(#r)"/>
<path d="M489 382C490 400 500 420 512 428C535 445 565 460 565 498" class="rt" marker-end="url(#r)"/>
<path d="M512 491C520 470 535 450 553 449" class="rt" marker-end="url(#r)"/>
<path d="M540 519C530 525 535 545 534 552C533 555 530 556 528 556" class="rt"/>
<path d="M483 516C478 530 478 555 490 559" class="rt" marker-end="url(#r)"/>
<path d="M593 411V405C590 398 592 390 596 385" class="rd"/>
<path d="M712 631C740 622 770 610 800 603C825 597 840 596 859 598" class="rt" style="stroke-width:1.200" marker-end="url(#r)"/>
<path d="M680 633C700 640 720 650 739 654C770 665 810 666 845 664C855 663 862 660 872 658" class="rt" style="stroke-width:1.200" marker-end="url(#r)"/>
<path d="M804 487H826V517H888V512" fill="none" stroke="#f0a090" stroke-width=".6" stroke-dasharray="1.500 1"/>
<path d="M425 351H579V349" class="rd" style="stroke-width:.6"/>
<path d="M688 593L670 640L650 664L630 695" fill="none" stroke="#f0553a" stroke-width=".8" stroke-dasharray="2 1.500"/>
<text transform="translate(577 620) rotate(-77)" font-size="4.500" fill="#f08070" text-anchor="middle">Overlapping with the</text>
<text transform="translate(662 630) rotate(-72)" font-size="4.500" fill="#f08070" text-anchor="middle">Interlocking Wind Towers</text>

<!-- cyan connectors -->
<path d="M438 516C415 515 405 500 401 465C400 450 400 440 400 436" class="cy" marker-end="url(#c)"/>
<path d="M293 583C295 560 305 540 333 518C355 503 375 490 397 479" class="cy" marker-end="url(#c)"/>
<path d="M458 531C458 545 440 553 400 558C388 560 380 570 378 581" class="cy" marker-end="url(#c)"/>
<path d="M400 424C410 400 440 350 433 325C430 315 420 313 413 313" class="cy" marker-end="url(#c)"/>
<path d="M589 519C620 512 640 495 650 480C665 450 670 400 680 375C695 340 715 325 733 317" class="cy" marker-end="url(#c)"/>
<path d="M512 490C530 489 555 488 569 479" class="cy" marker-end="url(#c)"/>
<path d="M529 110C540 130 555 160 570 190C585 225 598 270 602 333C604 350 604 370 604 381" class="cd"/>
<path d="M664 211C640 212 636 235 637 270C638 320 645 370 640 385C625 405 595 405 579 398C575 396 570 390 575 385" class="cd"/>

<!-- black dashed -->
<path d="M565 703V674C566 660 568 650 570 638M589 584C600 565 625 547 649 547C665 547 680 555 689 580" fill="none" stroke="#222" stroke-width=".9" stroke-dasharray="4 2.500" marker-end="url(#k)"/>

<!-- hub labels -->
<g fill="#fff"><rect x="483" y="185" width="46" height="10"/><rect x="358" y="305" width="30" height="8"/><rect x="354" y="314" width="36" height="8"/><rect x="622" y="307" width="36" height="9"/><rect x="414" y="447" width="30" height="8"/><rect x="414" y="455" width="30" height="8"/><rect x="575" y="445" width="36" height="8" opacity=".7"/></g>
<g class="ser" fill="#b0b0b0" font-size="7.500" text-anchor="middle">
<text x="506" y="193" textLength="44" lengthAdjust="spacingAndGlyphs">Computation</text>
<text x="372" y="312" textLength="28" lengthAdjust="spacingAndGlyphs">Physical</text><text x="372" y="320" textLength="35" lengthAdjust="spacingAndGlyphs">Computing</text>
<text x="640" y="314" textLength="35" lengthAdjust="spacingAndGlyphs">Simulation</text>
<text x="429" y="453" textLength="28" lengthAdjust="spacingAndGlyphs">Machine</text><text x="429" y="461" textLength="29" lengthAdjust="spacingAndGlyphs">Learning</text>
<text x="593" y="451" textLength="36" lengthAdjust="spacingAndGlyphs">Fabrication</text>
</g>
<text class="ser" x="618" y="186" font-size="6.500" fill="#8fb0b0" text-anchor="middle">Form</text><text class="ser" x="618" y="194" font-size="6.500" fill="#8fb0b0" text-anchor="middle">Finding</text>
<g class="ser" fill="#b56a6a" font-size="5.500" text-anchor="middle"><text x="522" y="655">Interactive</text><text x="522" y="662">Human AI</text><text x="522" y="675">Building</text><text x="522" y="682">Typology</text></g>

<!-- Urban box -->
<rect x="447.500" y="703.500" width="147" height="28" fill="#e6e6e6" stroke="#777" stroke-width="1"/>
<text class="ser" x="455" y="722" font-size="14" fill="#8c8c8c" textLength="132" lengthAdjust="spacingAndGlyphs">Urban WIND Towers</text>
</svg>
</body></html>
